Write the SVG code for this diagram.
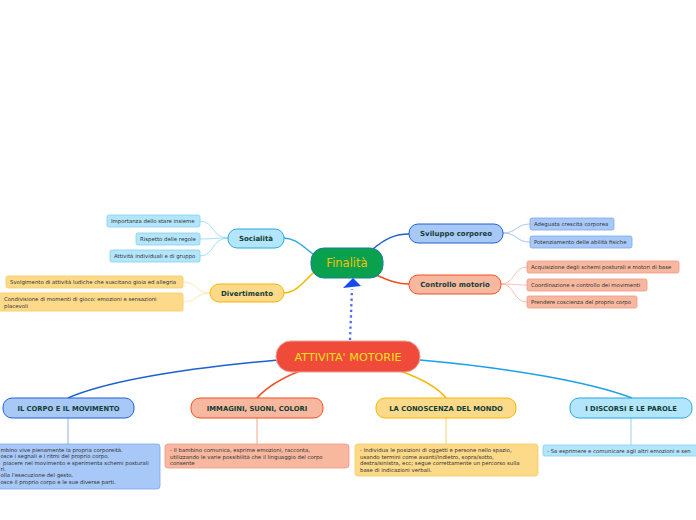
<svg xmlns="http://www.w3.org/2000/svg" width="696" height="520" viewBox="0 0 696 520">
<defs>
<style>
.lbl{font-family:"DejaVu Sans","Liberation Sans",sans-serif;font-weight:bold;fill:#113d33;text-anchor:middle}
.leaf{font-family:"DejaVu Sans","Liberation Sans",sans-serif;font-size:5.4px;fill:#333}
.ttl{font-family:"DejaVu Sans","Liberation Sans",sans-serif;text-anchor:middle}
.c{fill:none;stroke-width:1.5}
.t{fill:none;stroke-width:0.8}
</style>
</defs>
<rect width="696" height="520" fill="#ffffff"/>

<g id="connectors">
<path class="c" d="M313,254 C300,244 296,239 284,238" stroke="#29a8e0"/>
<path class="c" d="M314,272 C302,284 296,292 284,293" stroke="#f5b800"/>
<path class="c" d="M373,249 C386,238 396,234 409,234" stroke="#1a60d0"/>
<path class="c" d="M376,275 C390,281 398,284 409,284" stroke="#f05020"/>
<path class="t" d="M228,238 C212,238 214,221 200,221" stroke="#8fd4f5"/>
<path class="t" d="M228,238 C212,238 214,239 200,239" stroke="#8fd4f5"/>
<path class="t" d="M228,238 C212,238 214,256 200,256" stroke="#8fd4f5"/>
<path class="t" d="M210,293 C196,293 197,282 183,282" stroke="#fde0a0"/>
<path class="t" d="M210,293 C196,293 197,302 183,302" stroke="#fde0a0"/>
<path class="t" d="M503,233 C517,233 516,224 530,224" stroke="#90b8f0"/>
<path class="t" d="M503,233 C517,233 516,242 530,242" stroke="#90b8f0"/>
<path class="t" d="M501,284 C515,284 513,267 527,267" stroke="#f8b0a0"/>
<path class="t" d="M501,284 C515,284 513,285 527,285" stroke="#f8b0a0"/>
<path class="t" d="M501,284 C515,284 513,302 527,302" stroke="#f8b0a0"/>
<path d="M350,340 L352,289" fill="none" stroke="#4a6cf0" stroke-width="2.3" stroke-dasharray="2.3,3.3"/>
<polygon points="353,278 361,286 343,288" fill="#1848f0"/>
<path class="c" d="M278,360 C190,368 110,380 68,398" stroke="#1a60d0"/>
<path class="c" d="M300,371 C282,378 266,388 257,398" stroke="#f05020"/>
<path class="c" d="M400,371 C420,378 438,388 446,398" stroke="#f5b800"/>
<path class="c" d="M420,360 C510,368 590,382 632,398" stroke="#1aa0e8"/>
<path class="t" d="M68,418 V444" stroke="#6a9ae0"/>
<path class="t" d="M257,418 V444" stroke="#f09070"/>
<path class="t" d="M446,418 V444" stroke="#f5c840"/>
<path class="t" d="M631,418 V445" stroke="#7cc8f0"/>
</g>

<g id="attivita">
<rect x="276" y="341" width="144" height="31" rx="15" fill="#f04a3a" stroke="#e8a090" stroke-width="1"/>
<text class="ttl" x="348" y="361" font-size="11.2" fill="#f5e020">ATTIVITA' MOTORIE</text>
</g>
<g id="finalita">
<rect x="311" y="248" width="72" height="30" rx="13" fill="#0aa14e" stroke="#1d7aa0" stroke-width="1"/>
<text class="ttl" x="347" y="267" font-size="11.5" fill="#f5c000">Finalità</text>
</g>

<g id="socialita">
<rect x="228" y="229" width="56" height="19" rx="9" fill="#b3e5fc" stroke="#29a8e0" stroke-width="1"/>
<text class="lbl" x="256" y="241" font-size="7">Socialità</text>
</g>
<g id="divertimento">
<rect x="210" y="284" width="74" height="18" rx="9" fill="#fdd98a" stroke="#f5b800" stroke-width="1"/>
<text class="lbl" x="247" y="296" font-size="7">Divertimento</text>
</g>
<g id="sviluppo">
<rect x="409" y="224" width="94" height="19" rx="9" fill="#a8c8f8" stroke="#2060d0" stroke-width="1"/>
<text class="lbl" x="456" y="236" font-size="7">Sviluppo corporeo</text>
</g>
<g id="controllo">
<rect x="409" y="275" width="92" height="19" rx="9" fill="#f8b8a0" stroke="#f05020" stroke-width="1"/>
<text class="lbl" x="455" y="287" font-size="7">Controllo motorio</text>
</g>

<g id="leaf-s1"><rect x="107" y="215" width="93" height="12" rx="2" fill="#b3e5fc" stroke="#80d0f5" stroke-width="0.8"/><text class="leaf" x="111" y="223">Importanza dello stare insieme</text></g>
<g id="leaf-s2"><rect x="136" y="233" width="64" height="12" rx="2" fill="#b3e5fc" stroke="#80d0f5" stroke-width="0.8"/><text class="leaf" x="140" y="241">Rispetto delle regole</text></g>
<g id="leaf-s3"><rect x="110" y="250" width="90" height="12" rx="2" fill="#b3e5fc" stroke="#80d0f5" stroke-width="0.8"/><text class="leaf" x="114" y="258">Attività individuali e di gruppo</text></g>
<g id="leaf-d1"><rect x="6" y="276" width="177" height="12" rx="2" fill="#fdd98a" stroke="#f8cc60" stroke-width="0.8"/><text class="leaf" x="10" y="284">Svolgimento di attività ludiche che suscitano gioia ed allegria</text></g>
<g id="leaf-d2"><rect x="-2" y="293" width="185" height="18" rx="2" fill="#fdd98a" stroke="#f8cc60" stroke-width="0.8"/><text class="leaf" x="4" y="300.5">Condivisione di momenti di gioco: emozioni e sensazioni</text><text class="leaf" x="4" y="307.5">placevoli</text></g>
<g id="leaf-v1"><rect x="530" y="218" width="84" height="12" rx="2" fill="#a8c8f8" stroke="#7aa8f0" stroke-width="0.8"/><text class="leaf" x="534" y="226">Adeguata crescita corporea</text></g>
<g id="leaf-v2"><rect x="530" y="236" width="102" height="12" rx="2" fill="#a8c8f8" stroke="#7aa8f0" stroke-width="0.8"/><text class="leaf" x="534" y="244">Potenziamento delle abilità fisiche</text></g>
<g id="leaf-c1"><rect x="527" y="261" width="152" height="12" rx="2" fill="#f8b8a0" stroke="#f09880" stroke-width="0.8"/><text class="leaf" x="531" y="269">Acquisizione degli schemi posturali e motori di base</text></g>
<g id="leaf-c2"><rect x="527" y="279" width="120" height="12" rx="2" fill="#f8b8a0" stroke="#f09880" stroke-width="0.8"/><text class="leaf" x="531" y="287">Coordinazione e controllo dei movimenti</text></g>
<g id="leaf-c3"><rect x="527" y="296" width="110" height="12" rx="2" fill="#f8b8a0" stroke="#f09880" stroke-width="0.8"/><text class="leaf" x="531" y="304">Prendere coscienza del proprio corpo</text></g>

<g id="cat-corpo">
<rect x="3" y="398" width="131" height="20" rx="9" fill="#a8c8f8" stroke="#2060d0" stroke-width="1"/>
<text class="lbl" x="68.5" y="411" font-size="6.8">IL CORPO E IL MOVIMENTO</text>
</g>
<g id="cat-immagini">
<rect x="191" y="398" width="132" height="20" rx="9" fill="#f8b8a0" stroke="#f05020" stroke-width="1"/>
<text class="lbl" x="257" y="411" font-size="6.8">IMMAGINI, SUONI, COLORI</text>
</g>
<g id="cat-mondo">
<rect x="376" y="398" width="140" height="20" rx="9" fill="#fdd98a" stroke="#f5b800" stroke-width="1"/>
<text class="lbl" x="446" y="411" font-size="6.8">LA CONOSCENZA DEL MONDO</text>
</g>
<g id="cat-discorsi">
<rect x="570" y="398" width="122" height="20" rx="9" fill="#b3e5fc" stroke="#29a8e0" stroke-width="1"/>
<text class="lbl" x="631" y="411" font-size="6.8">I DISCORSI E LE PAROLE</text>
</g>

<g id="txt-corpo">
<rect x="-40" y="444" width="200" height="45" rx="3" fill="#a8c8f8" stroke="#7aa8f0" stroke-width="0.8"/>
<text class="leaf" x="0.5" y="452">mbino vive pienamente la propria corporeità.</text>
<text class="leaf" x="0.5" y="458.3">osce i segnali e i ritmi del proprio corpo.</text>
<text class="leaf" x="3" y="464.6">piacere nel movimento e sperimenta schemi posturali</text>
<text class="leaf" x="0.5" y="470.9">ri.</text>
<text class="leaf" x="0.5" y="477.2">olla l'esecuzione del gesto.</text>
<text class="leaf" x="0.5" y="483.5">osce il proprio corpo e le sue diverse parti.</text>
</g>
<g id="txt-immagini">
<rect x="165" y="444" width="184" height="24" rx="3" fill="#f8b8a0" stroke="#f09880" stroke-width="0.8"/>
<text class="leaf" x="170" y="452">- Il bambino comunica, esprime emozioni, racconta,</text>
<text class="leaf" x="170" y="458.5">utilizzando le varie possibilità che il linguaggio del corpo</text>
<text class="leaf" x="170" y="465">consente</text>
</g>
<g id="txt-mondo">
<rect x="355" y="444" width="183" height="32" rx="3" fill="#fdd98a" stroke="#f8cc60" stroke-width="0.8"/>
<text class="leaf" x="360" y="452">- Individua le posizioni di oggetti e persone nello spazio,</text>
<text class="leaf" x="360" y="458.5">usando termini come avanti/indietro, sopra/sotto,</text>
<text class="leaf" x="360" y="465">destra/sinistra, ecc; segue correttamente un percorso sulla</text>
<text class="leaf" x="360" y="471.5">base di indicazioni verbali.</text>
</g>
<g id="txt-discorsi">
<rect x="543" y="445" width="170" height="11" rx="2" fill="#b3e5fc" stroke="#80d0f5" stroke-width="0.8"/>
<text class="leaf" x="547" y="452.5">- Sa esprimere e comunicare agli altri emozioni e sen</text>
</g>
</svg>
